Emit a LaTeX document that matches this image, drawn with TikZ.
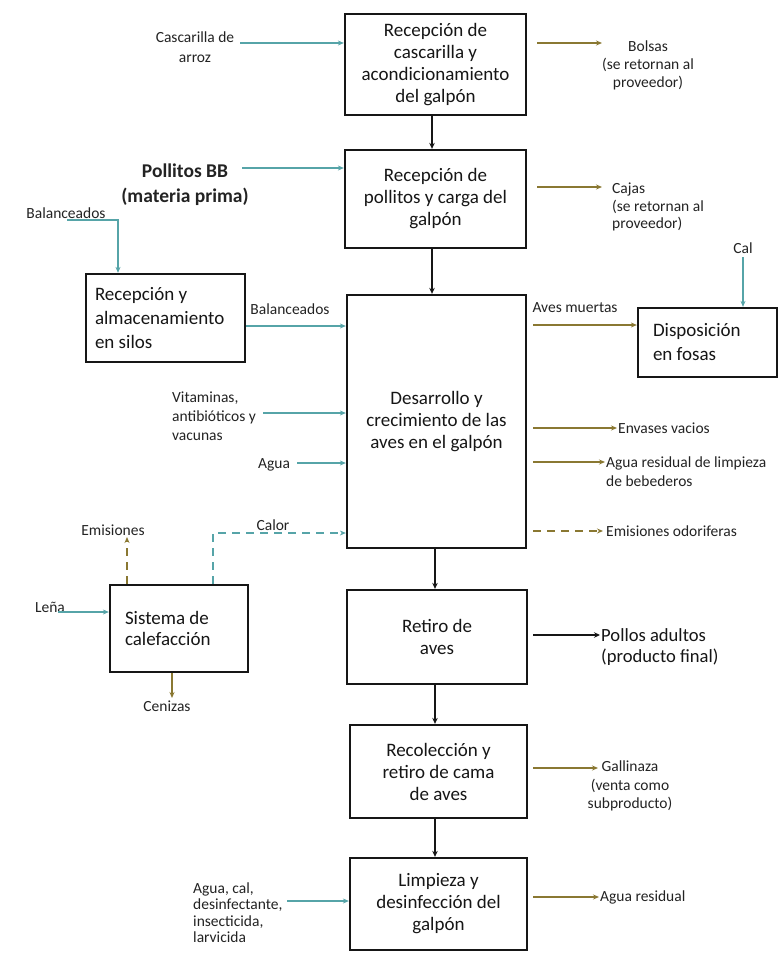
\documentclass[tikz,border=0pt]{standalone}
\usepackage{fontspec}
\setmainfont{Carlito}
\usetikzlibrary{arrows.meta}
\definecolor{tealc}{RGB}{86,164,168}
\definecolor{olivec}{RGB}{138,120,50}
\definecolor{ink}{RGB}{22,22,22}
\definecolor{lblc}{RGB}{35,35,35}
\begin{document}
\begin{tikzpicture}[x=1pt,y=-1pt,
  box/.style={draw=ink,line width=2.3pt,align=center,text=ink,inner sep=2pt,
    font=\fontsize{19}{22}\selectfont},
  lbox/.style={draw=ink,line width=2.3pt,align=flush left,text=ink,inner ysep=4pt},
  lbl/.style={font=\fontsize{15.5}{19}\selectfont,text=lblc,inner sep=0pt},
  inp/.style={draw=tealc,line width=1.8pt,-{Stealth[length=6pt,width=5pt]}},
  outp/.style={draw=olivec,line width=1.9pt,-{Stealth[length=6pt,width=5pt]}},
  flow/.style={draw=ink,line width=2pt,-{Stealth[length=6pt,width=5.5pt]}},
  dsh/.style={dash pattern=on 8pt off 6pt}]

\useasboundingbox[fill=white] (0,0) rectangle (779,960);

% ---------- main column ----------
\node[box,minimum width=181,minimum height=101] (b1) at (435.5,64.5)
  {Recepción de\\cascarilla y\\acondicionamiento\\del galpón};
\node[box,minimum width=181,minimum height=98] (b2) at (435.5,199)
  {Recepción de\\pollitos y carga del\\galpón};
\node[box,minimum width=179,minimum height=253] (b3) at (436.5,421.5)
  {Desarrollo y\\crecimiento de las\\aves en el galpón};
\node[box,minimum width=180,minimum height=94] (b4) at (437,637)
  {Retiro de\\aves};
\node[box,minimum width=177,minimum height=93] (b5) at (438.5,771.5)
  {Recolección y\\retiro de cama\\de aves};
\node[box,minimum width=177,minimum height=92] (b6) at (438.5,904)
  {Limpieza y\\desinfección del\\galpón};

% ---------- side boxes ----------
\node[lbox,text width=141pt,inner xsep=9pt,minimum height=88,
  font=\fontsize{19}{24}\selectfont] (silos) at (165.5,318)
  {Recepción y\\almacenamiento\\en silos};
\node[lbox,text width=109pt,inner xsep=15pt,minimum height=69,
  font=\fontsize{19}{24}\selectfont] (fosas) at (707.5,342.5)
  {Disposición\\en fosas};
\node[lbox,text width=108pt,inner xsep=15pt,minimum height=87,
  font=\fontsize{19}{21.5}\selectfont] (sist) at (179,628.5)
  {Sistema de\\calefacción};

% ---------- main flow ----------
\coordinate (cA) at (432,0);
\coordinate (cB) at (435,0);
\draw[flow] (cA |- b1.south) -- (cA |- b2.north);
\draw[flow] (cA |- b2.south) -- (cA |- b3.north);
\draw[flow] (cB |- b3.south) -- (cB |- b4.north);
\draw[flow] (cB |- b4.south) -- (cB |- b5.north);
\draw[flow] (cB |- b5.south) -- (cB |- b6.north);

% ---------- input labels ----------
\node[lbl,align=center,font=\fontsize{15.5}{20}\selectfont] (lcasc) at (195,47) {Cascarilla de\\arroz};
\node[lbl,align=center,font=\fontsize{19.5}{25}\selectfont\bfseries] (lpoll) at (185,184.5) {Pollitos BB\\(materia prima)};
\node[lbl] (lbal1) at (66,213) {Balanceados};
\node[lbl] (lbal2) at (290,309) {Balanceados};
\node[lbl,align=left,anchor=west] (lvit) at (172,416) {Vitaminas,\\antibióticos y\\vacunas};
\node[lbl] (lagua) at (274,465) {Agua};
\node[lbl] (lcalor) at (273,525) {Calor};
\node[lbl] (lemi) at (113,530) {Emisiones};
\node[lbl] (llena) at (50,607) {Leña};
\node[lbl] (lcen) at (167,706) {Cenizas};
\node[lbl] (lcal) at (743,248) {Cal};
\node[lbl,align=left,anchor=west,font=\fontsize{15.5}{16.5}\selectfont] (lagc) at (193,912.5)
  {Agua, cal,\\desinfectante,\\insecticida,\\larvicida};

% ---------- inputs ----------
\coordinate (iCasc) at (240,43);
\draw[inp] (iCasc) -- (iCasc -| b1.west);
\coordinate (iPoll) at (242,168);
\draw[inp] (iPoll) -- (iPoll -| b2.west);
\coordinate (iBalA) at (67,220);
\coordinate (iBalB) at (118,260);
\draw[inp] (iBalA) -| (iBalB |- silos.north);
\coordinate (iBal2) at (245,326);
\draw[inp] (iBal2 -| silos.east) -- (iBal2 -| b3.west);
\coordinate (iVit) at (263,413);
\draw[inp] (iVit) -- (iVit -| b3.west);
\coordinate (iAgua) at (297,463);
\draw[inp] (iAgua) -- (iAgua -| b3.west);
\coordinate (iCalA) at (213,600);
\coordinate (iCalB) at (347,533);
\draw[inp,dsh] (iCalA |- sist.north) |- (iCalB -| b3.west);
\coordinate (iLena) at (58,612);
\draw[inp] (iLena) -- (iLena -| sist.west);
\coordinate (iCal) at (743,257);
\draw[inp] (iCal) -- (iCal |- fosas.north);
\coordinate (iAgc) at (287,901);
\draw[inp] (iAgc) -- (iAgc -| b6.west);

% ---------- heating outputs ----------
\coordinate (oEmi) at (127,537);
\draw[outp,dsh] (oEmi |- sist.north) -- (oEmi);
\coordinate (oCen) at (172,698);
\draw[outp] (oCen |- sist.south) -- (oCen);

% ---------- output labels ----------
\node[lbl,align=center,font=\fontsize{15.5}{18}\selectfont] (lbol) at (648,65) {Bolsas\\(se retornan al\\proveedor)};
\node[lbl,align=left,anchor=west,font=\fontsize{15.5}{17.5}\selectfont] (lcaj) at (612,207) {Cajas\\(se retornan al\\proveedor)};
\node[lbl] (lave) at (575,308) {Aves muertas};
\node[lbl,anchor=west] (lenv) at (618,428) {Envases vacios};
\node[lbl,align=left,anchor=west,font=\fontsize{15.5}{19.5}\selectfont] (lalb) at (606,471.5) {Agua residual de limpieza\\de bebederos};
\node[lbl,anchor=west] (lodo) at (606,531) {Emisiones odoriferas};
\node[lbl,align=left,anchor=west,font=\fontsize{18.6}{21}\selectfont,text=ink] (lpol) at (601,647.5) {Pollos adultos\\(producto final)};
\node[lbl,align=center,font=\fontsize{15.5}{18.5}\selectfont] (lgal) at (630,786) {Gallinaza\\(venta como\\subproducto)};
\node[lbl,anchor=west] (lagr) at (600,897) {Agua residual};

% ---------- outputs ----------
\coordinate (oBolA) at (537,43);  \coordinate (oBolB) at (602,43);
\draw[outp] (oBolA) -- (oBolB);
\coordinate (oCajA) at (537,187); \coordinate (oCajB) at (602,187);
\draw[outp] (oCajA) -- (oCajB);
\coordinate (oAve) at (533,325);
\draw[outp] (oAve) -- (oAve -| fosas.west);
\coordinate (oEnvA) at (533,428); \coordinate (oEnvB) at (617,428);
\draw[outp] (oEnvA) -- (oEnvB);
\coordinate (oAlbA) at (533,462); \coordinate (oAlbB) at (605,462);
\draw[outp] (oAlbA) -- (oAlbB);
\coordinate (oOdoA) at (533,531); \coordinate (oOdoB) at (603,531);
\draw[outp,dsh] (oOdoA) -- (oOdoB);
\coordinate (oPolA) at (533,635); \coordinate (oPolB) at (600,635);
\draw[flow,line width=1.7pt] (oPolA) -- (oPolB);
\coordinate (oGalA) at (533,768); \coordinate (oGalB) at (598,768);
\draw[outp] (oGalA) -- (oGalB);
\coordinate (oAgrA) at (533,897); \coordinate (oAgrB) at (599,897);
\draw[outp] (oAgrA) -- (oAgrB);
\end{tikzpicture}
\end{document}
